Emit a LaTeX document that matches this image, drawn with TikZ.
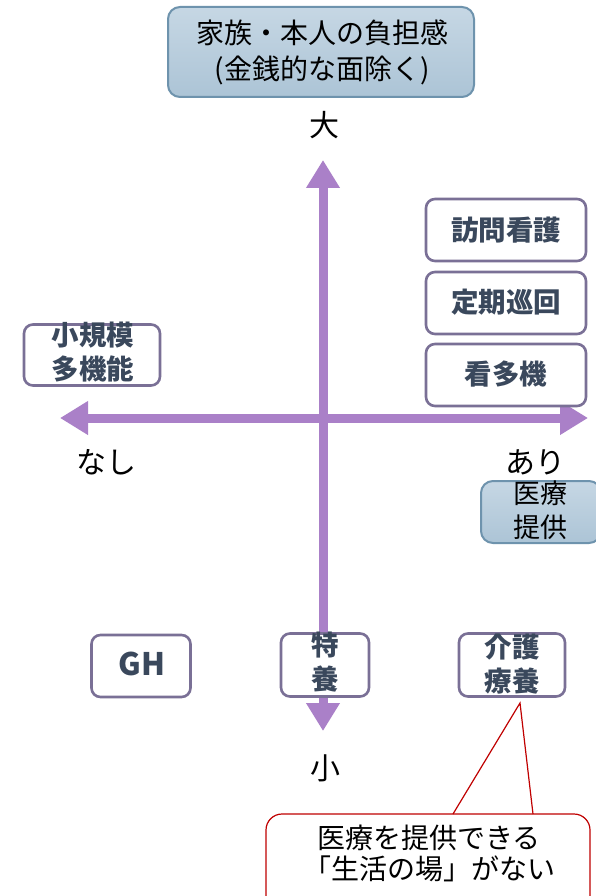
\documentclass[tikz,border=0pt]{standalone}
\usepackage{fontspec}
\setmainfont{Noto Sans CJK JP}
\usetikzlibrary{arrows.meta}
\definecolor{axis}{RGB}{170,128,200}
\definecolor{svcline}{RGB}{122,112,150}
\definecolor{svctext}{RGB}{58,72,92}
\definecolor{blueline}{RGB}{110,147,173}
\definecolor{blueA}{RGB}{198,215,228}
\definecolor{blueB}{RGB}{172,196,214}
\definecolor{callred}{RGB}{192,0,0}
\tikzset{
  svc/.style={draw=svcline, line width=2.6pt, fill=white, rounded corners=9pt, inner sep=0pt},
  svctext/.style={text=svctext, font=\bfseries\fontsize{27.5}{34}\selectfont, align=center, inner sep=0pt},
  bluebox/.style={draw=blueline, line width=2pt, top color=blueA, bottom color=blueB, rounded corners=12pt, inner sep=0pt},
  lbl/.style={font=\fontsize{30}{35}\selectfont, align=center, inner sep=0pt},
  axisarrow/.style={draw=axis, line width=9pt, {Triangle[width=32pt,length=28pt]}-{Triangle[width=32pt,length=28pt]}}
}
\begin{document}
\begin{tikzpicture}[x=1pt,y=-1pt]
\useasboundingbox[fill=white] (0,0) rectangle (596,896);

% axes
\coordinate (vtop) at (323,160);
\coordinate (vbot) at (323,731);
\coordinate (hleft) at (60,418);
\coordinate (hright) at (588,418);
\draw[axisarrow] (vbot) -- (vtop);
\draw[axisarrow] (hleft) -- (hright);

% top box
\node[bluebox, minimum width=306pt, minimum height=90pt] (burden) at (321,52) {};
\node[lbl, font=\fontsize{28}{36}\selectfont] (burdentxt) at (322,52) {家族・本人の負担感\\(金銭的な面除く)};

% axis labels
\node[lbl] (dai) at (324,125) {大};
\node[lbl] (shou) at (325,768) {小};
\node[lbl] (nashi) at (106,462) {なし};
\node[lbl] (ari) at (535,462) {あり};

% medical box
\node[bluebox, minimum width=120pt, minimum height=62pt] (iryou) at (541,512) {};
\node[lbl, font=\fontsize{27}{34}\selectfont] (iryoutxt) at (540,510) {医療\\提供};

% service boxes
\node[svc, minimum width=160pt, minimum height=62pt] (houmon) at (506,230) {};
\node[svctext] (houmontxt) at (506,230) {訪問看護};
\node[svc, minimum width=160pt, minimum height=62pt] (teiki) at (506,303) {};
\node[svctext] (teikitxt) at (506,302) {定期巡回};
\node[svc, minimum width=160pt, minimum height=62pt] (kantaki) at (506,375) {};
\node[svctext] (kantakitxt) at (506,374) {看多機};

\node[svc, minimum width=136pt, minimum height=61pt] (shoki) at (92,355) {};
\node[svctext] (shokitxt) at (93,352) {小規模\\多機能};

\node[svc, minimum width=99pt, minimum height=62pt] (gh) at (141,666) {};
\node[svctext, font=\bfseries\fontsize{31}{34}\selectfont] (ghtxt) at (142,664) {GH};

\node[svc, minimum width=88pt, minimum height=63pt] (tokuyou) at (325,665) {};
\node[svctext] (tokuyoutxt) at (325,662) {特\\養};

\node[svc, minimum width=106pt, minimum height=63pt] (kaigo) at (512,665) {};
\node[svctext] (kaigotxt) at (512,664) {介護\\療養};

% callout
\coordinate (tip) at (520,703);
\coordinate (pl) at (453,814);
\coordinate (pr) at (533,814);
\node[draw=callred, line width=1.2pt, fill=white, rounded corners=16pt, minimum width=324pt, minimum height=100pt, inner sep=0pt] (callout) at (428,864) {};
\fill[white] ([yshift=3pt]pl) -- (tip) -- ([yshift=3pt]pr) -- cycle;
\draw[callred, line width=1.2pt] (pl) -- (tip) -- (pr);
\node[lbl, font=\fontsize{28}{31}\selectfont] (calltxt) at (429,853) {医療を提供できる\\「生活の場」がない};
\end{tikzpicture}
\end{document}
